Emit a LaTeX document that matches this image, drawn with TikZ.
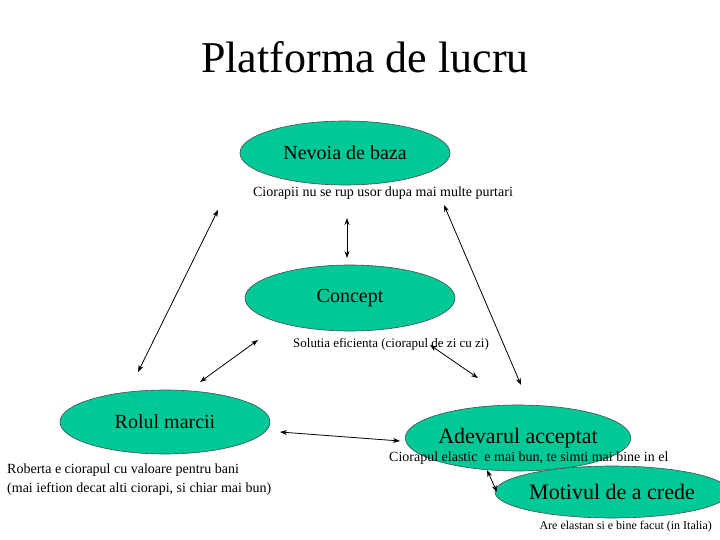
\documentclass[tikz,border=0pt]{standalone}
\usepackage{fontspec}
\setmainfont{Liberation Serif}
\usetikzlibrary{shapes.geometric,arrows.meta}
\definecolor{teal1}{RGB}{0,200,150}
\begin{document}
\begin{tikzpicture}[x=1pt,y=-1pt,
 el/.style={ellipse,fill=teal1,draw=black!70,line width=0.6pt,inner sep=0pt},
 lab/.style={inner sep=0pt,font=\fontsize{14}{16}\selectfont},
 arr/.style={{Stealth[length=7pt,width=5pt]}-{Stealth[length=7pt,width=5pt]},line width=0.8pt}]
\useasboundingbox (0,0) rectangle (720,540);
\node[inner sep=0pt,font=\fontsize{44}{48}\selectfont] (title) at (365,57) {Platforma de lucru};
\node[el,minimum width=210pt,minimum height=64pt,font=\fontsize{20}{22}\selectfont] (nev) at (345,153) {Nevoia de baza};
\node[el,minimum width=210pt,minimum height=66pt,font=\fontsize{20}{22}\selectfont] (con) at (350,298) {Concept};
\node[el,minimum width=210pt,minimum height=64pt,font=\fontsize{20}{22}\selectfont] (rol) at (165,422) {Rolul marcii};
\node[el,minimum width=210pt,minimum height=66pt,font=\fontsize{22}{24}\selectfont] (ade) at (518,438) {Adevarul acceptat};
\node[el,minimum width=216pt,minimum height=52pt,font=\fontsize{22}{24}\selectfont] (mot) at (612,492) {Motivul de a crede};
\node[lab] (t1) at (383,193) {Ciorapii nu se rup usor dupa mai multe purtari};
\node[lab,font=\fontsize{13}{15}\selectfont] (t2) at (391,344) {Solutia eficienta (ciorapul de zi cu zi)};
\node[lab,anchor=west,align=left,font=\fontsize{14}{19}\selectfont] (t3) at (7,480) {Roberta e ciorapul cu valoare pentru bani\\(mai ieftion decat alti ciorapi, si chiar mai bun)};
\node[lab,anchor=west] (t4) at (389,458) {Ciorapul elastic\ \ e mai bun, te simti mai bine in el};
\node[lab,anchor=east,font=\fontsize{12}{14}\selectfont] (t5) at (712,527) {Are elastan si e bine facut (in Italia)};
\coordinate (a1) at (347,218); \coordinate (b1) at (347,258);
\coordinate (a2) at (218,210); \coordinate (b2) at (138,372);
\coordinate (a3) at (444,205); \coordinate (b3) at (521,385);
\coordinate (a4) at (258,340); \coordinate (b4) at (200,382);
\coordinate (a5) at (430,345); \coordinate (b5) at (478,378);
\coordinate (a6) at (280,432); \coordinate (b6) at (400,441);
\coordinate (a7) at (487,470); \coordinate (b7) at (497,492);
\foreach \i in {1,...,7} \draw[arr] (a\i) -- (b\i);
\end{tikzpicture}
\end{document}
